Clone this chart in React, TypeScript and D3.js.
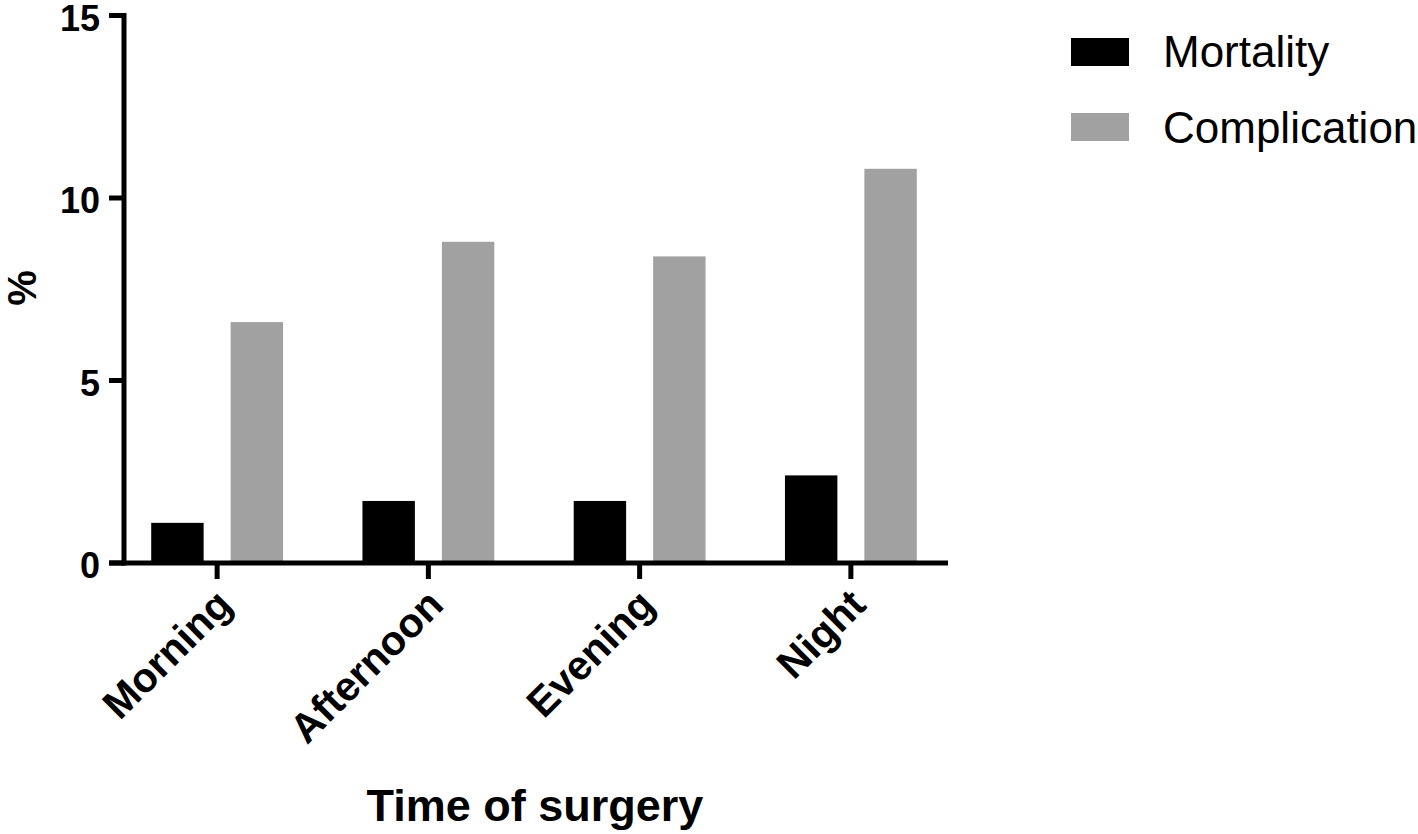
import React from "react";
import * as d3 from "d3";

const categories = ["Morning", "Afternoon", "Evening", "Night"];
const seriesNames = ["Mortality", "Complication"];
const mortality = [1.1, 1.7, 1.7, 2.4];
const complication = [6.6, 8.8, 8.4, 10.8];
const yTicks = [0, 5, 10, 15];
const seriesColors = ["#000000", "#a1a1a1"];
const xTitle = "Time of surgery";
const yTitle = "%";

const W = 1418;
const H = 834;
const FONT = "'Liberation Sans', Arial, Helvetica, sans-serif";

export default function App() {
  const y = d3.scaleLinear().domain([0, 15]).range([563, 15.5]);
  const x = d3.scaleBand<string>().domain(categories).range([111.5, 956.5]).padding(0);
  const x1 = d3
    .scaleBand<string>()
    .domain(seriesNames)
    .range([0, x.bandwidth()])
    .paddingInner(0.34)
    .paddingOuter(0.5);
  const values = [mortality, complication];
  const axisX = 124;
  const axisY = y(0);

  return (
    <svg
      width={W}
      height={H}
      style={{ position: "fixed", left: 0, top: 0, background: "#fff" }}
      fontFamily={FONT}
    >
      {/* bars */}
      {categories.map((c, i) => (
        <g key={c} transform={`translate(${x(c)},0)`}>
          {seriesNames.map((s, j) => (
            <rect
              key={s}
              x={x1(s)}
              y={y(values[j][i])}
              width={x1.bandwidth()}
              height={y(0) - y(values[j][i])}
              fill={seriesColors[j]}
            />
          ))}
        </g>
      ))}

      {/* y axis */}
      <line x1={axisX} x2={axisX} y1={y(15) - 2.5} y2={axisY + 2.5} stroke="#000" strokeWidth={5} />
      {yTicks.map((t) => (
        <g key={t}>
          <line x1={109} x2={axisX} y1={y(t)} y2={y(t)} stroke="#000" strokeWidth={5} />
          <text
            x={100}
            y={y(t) + 15}
            textAnchor="end"
            fontSize={36}
            fontWeight="bold"
          >
            {t}
          </text>
        </g>
      ))}

      {/* x axis */}
      <line x1={109} x2={948} y1={axisY} y2={axisY} stroke="#000" strokeWidth={5} />
      {categories.map((c) => {
        const cx = (x(c) as number) + x.bandwidth() / 2;
        return (
          <g key={c}>
            <line x1={cx} x2={cx} y1={axisY} y2={axisY + 16} stroke="#000" strokeWidth={5} />
            <text
              transform={`translate(${cx + 17},${axisY + 44}) rotate(-45)`}
              textAnchor="end"
              fontSize={41}
              fontWeight="bold"
            >
              {c}
            </text>
          </g>
        );
      })}

      {/* axis titles */}
      <text x={535} y={821} textAnchor="middle" fontSize={45} fontWeight="bold">
        {xTitle}
      </text>
      <text
        transform={`translate(36,288) rotate(-90)`}
        textAnchor="middle"
        fontSize={40}
        fontWeight="bold"
      >
        {yTitle}
      </text>

      {/* legend */}
      {seriesNames.map((s, j) => (
        <g key={s}>
          <rect x={1071} y={38 + j * 75} width={58} height={28} fill={seriesColors[j]} />
          <text x={1163} y={67 + j * 76} fontSize={44}>
            {s}
          </text>
        </g>
      ))}
    </svg>
  );
}
